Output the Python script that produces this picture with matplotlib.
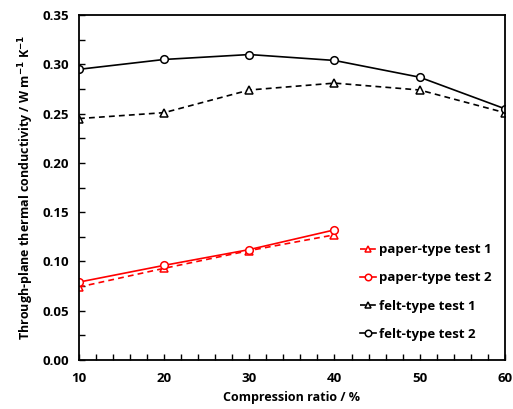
import matplotlib
matplotlib.use("Agg")
import matplotlib.pyplot as plt
from matplotlib.ticker import MultipleLocator

plt.rcParams['font.family'] = ['Open Sans', 'DejaVu Sans']
plt.rcParams['font.weight'] = 'bold'

ratio_paper = [10, 20, 30, 40]
paper_test1 = [0.074, 0.093, 0.111, 0.127]
paper_test2 = [0.079, 0.096, 0.112, 0.132]
ratio_felt = [10, 20, 30, 40, 50, 60]
felt_test1 = [0.245, 0.251, 0.274, 0.281, 0.274, 0.251]
felt_test2 = [0.295, 0.305, 0.310, 0.304, 0.287, 0.255]

fig = plt.figure(figsize=(5.13, 4.09), dpi=100)
ax = fig.add_axes([0.154, 0.120, 0.830, 0.843])

mk = dict(markersize=5.5, markerfacecolor='white', markeredgewidth=1.1, linewidth=1.2)
dash = (3.5, 2.5)
ax.plot(ratio_paper, paper_test1, '--', dashes=dash, marker='^', color='red', label='paper-type test 1', **mk)
ax.plot(ratio_paper, paper_test2, '-', marker='o', color='red', label='paper-type test 2', **mk)
ax.plot(ratio_felt, felt_test1, '--', dashes=dash, marker='^', color='black', label='felt-type test 1', **mk)
ax.plot(ratio_felt, felt_test2, '-', marker='o', color='black', label='felt-type test 2', **mk)

ax.set_xlim(10, 60)
ax.set_ylim(0, 0.35)
ax.xaxis.set_major_locator(MultipleLocator(10))
ax.xaxis.set_minor_locator(MultipleLocator(2))
ax.yaxis.set_major_locator(MultipleLocator(0.05))
ax.yaxis.set_minor_locator(MultipleLocator(0.025))
ax.yaxis.set_major_formatter(plt.FuncFormatter(lambda v, p: f"{v:.2f}"))
ax.tick_params(which='both', direction='in', length=4, width=1, labelsize=9.5)
ax.tick_params(axis='x', pad=9)
ax.tick_params(axis='y', pad=7)
for s in ax.spines.values():
    s.set_linewidth(1.3)

ax.set_xlabel('Compression ratio / %', fontsize=9, fontweight='bold', labelpad=4)
ax.set_ylabel('Through-plane thermal conductivity / W m$^{\\mathbf{-1}}$ K$^{\\mathbf{-1}}$',
              fontsize=9, fontweight='bold', labelpad=5)

ax.legend(loc='center left', bbox_to_anchor=(0.645, 0.197), frameon=False, fontsize=9.5,
          handlelength=1.2, handletextpad=0.2, labelspacing=1.15, borderpad=0,
          markerscale=0.85)

fig.savefig('out.png', dpi=100)
